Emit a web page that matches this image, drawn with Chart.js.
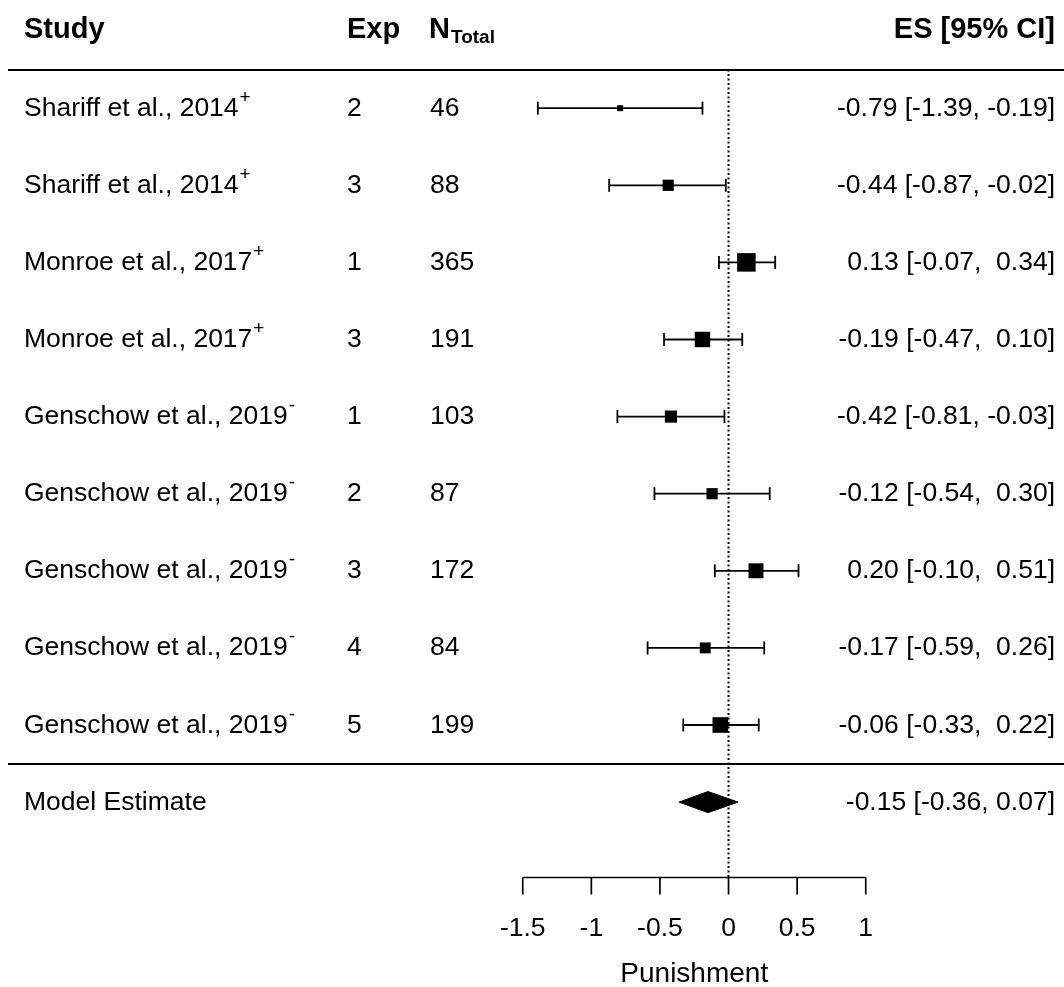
<!DOCTYPE html>
<html>
<head>
<meta charset="utf-8">
<title>Forest plot - Punishment</title>
<script src="https://cdn.jsdelivr.net/npm/chart.js@4.4.1/dist/chart.umd.min.js"></script>
<style>
    body { margin: 0; background: #fff; overflow: hidden; }
    #wrap { width: 1064px; height: 987px; position: relative; }
    canvas { display: block; }
</style>
</head>
<body>
<div id="wrap"><canvas id="forestChart"></canvas></div>
<script>
    // datos
    const studies = ["Shariff et al., 2014", "Shariff et al., 2014", "Monroe et al., 2017", "Monroe et al., 2017",
        "Genschow et al., 2019", "Genschow et al., 2019", "Genschow et al., 2019", "Genschow et al., 2019", "Genschow et al., 2019"];
    const studyMarks = ["+", "+", "+", "+", "-", "-", "-", "-", "-"];
    const exps = [2, 3, 1, 3, 1, 2, 3, 4, 5];
    const nTotal = [46, 88, 365, 191, 103, 87, 172, 84, 199];
    const es = [-0.79, -0.44, 0.13, -0.19, -0.42, -0.12, 0.20, -0.17, -0.06];
    const ciLow = [-1.39, -0.87, -0.07, -0.47, -0.81, -0.54, -0.10, -0.59, -0.33];
    const ciHigh = [-0.19, -0.02, 0.34, 0.10, -0.03, 0.30, 0.51, 0.26, 0.22];

    const modelLabel = "Model Estimate";
    const modelEs = -0.15;
    const modelLow = -0.36;
    const modelHigh = 0.07;

    const axisTicks = [-1.5, -1, -0.5, 0, 0.5, 1];
    const axisTickLabels = ["-1.5", "-1", "-0.5", "0", "0.5", "1"];
    const axisTitle = "Punishment";

    const FONT = '"Liberation Sans", Arial, Helvetica, sans-serif';
    const modelRow = studies.length;      // fila del modelo
    const axisRow = studies.length + 1;   // fila del eje

    const fmt = v => v.toFixed(2);
    const padPos = v => (v < 0 ? '' : ' ') + fmt(v);

    /** tamaño del cuadrado según N */
    function boxSide(n) {
        const lo = Math.log(Math.min(...nTotal));
        const hi = Math.log(Math.max(...nTotal));
        const t = (Math.log(n) - lo) / (hi - lo);
        return 6 + 12.5 * Math.pow(t, 0.75);
    }

    /** Textos de la tabla y eje */
    const forestText = {
        id: 'forestText',
        afterDraw(chart) {
            const { ctx, scales: { x, y } } = chart;
            ctx.save();
            ctx.fillStyle = '#000';
            ctx.strokeStyle = '#000';

            // cabecera
            ctx.textBaseline = 'alphabetic';
            ctx.font = `bold 29px ${FONT}`;
            ctx.textAlign = 'left';
            ctx.fillText("Study", 24, 38);
            ctx.fillText("Exp", 347, 38);
            ctx.fillText("N", 429, 38);
            const nW = ctx.measureText("N").width;
            ctx.font = `bold 19px ${FONT}`;
            ctx.fillText("Total", 429 + nW + 1, 43);
            ctx.font = `bold 29px ${FONT}`;
            ctx.textAlign = 'right';
            ctx.fillText("ES [95% CI]", 1055, 38);

            // líneas separadoras
            ctx.lineWidth = 2;
            [-0.5, modelRow - 0.5].forEach(v => {
                const py = Math.round(y.getPixelForValue(v));
                ctx.beginPath();
                ctx.moveTo(8, py);
                ctx.lineTo(1064, py);
                ctx.stroke();
            });

            // filas
            studies.forEach((s, i) => {
                const base = y.getPixelForValue(i) + 7.5;
                ctx.font = `26.5px ${FONT}`;
                ctx.textAlign = 'left';
                ctx.fillText(s, 24, base);
                const w = ctx.measureText(s).width;
                ctx.fillText(String(exps[i]), 347, base);
                ctx.fillText(String(nTotal[i]), 430, base);
                ctx.textAlign = 'right';
                ctx.fillText(`${fmt(es[i])} [${fmt(ciLow[i])}, ${padPos(ciHigh[i])}]`, 1055, base);
                ctx.textAlign = 'left';
                ctx.font = `19px ${FONT}`;
                ctx.fillText(studyMarks[i], 24 + w + 1, base - 13);
            });

            const mBase = y.getPixelForValue(modelRow) + 7.5;
            ctx.font = `26.5px ${FONT}`;
            ctx.textAlign = 'left';
            ctx.fillText(modelLabel, 24, mBase);
            ctx.textAlign = 'right';
            ctx.fillText(`${fmt(modelEs)} [${fmt(modelLow)}, ${fmt(modelHigh)}]`, 1055, mBase);

            // eje x
            const ay = Math.round(y.getPixelForValue(axisRow)) - 1.5;
            ctx.lineWidth = 1.7;
            ctx.beginPath();
            ctx.moveTo(x.getPixelForValue(axisTicks[0]), ay);
            ctx.lineTo(x.getPixelForValue(axisTicks[axisTicks.length - 1]), ay);
            axisTicks.forEach(t => {
                const px = x.getPixelForValue(t);
                ctx.moveTo(px, ay);
                ctx.lineTo(px, ay + 17);
            });
            ctx.stroke();
            ctx.font = `26.5px ${FONT}`;
            ctx.textAlign = 'center';
            axisTicks.forEach((t, k) => {
                ctx.fillText(axisTickLabels[k], x.getPixelForValue(t), ay + 58);
            });
            ctx.font = `28px ${FONT}`;
            ctx.fillText(axisTitle, x.getPixelForValue(-0.25), 982);
            ctx.restore();
        }
    };

    function generarForest() {
        const boxes = {
            type: 'scatter',
            order: 0,
            data: es.map((v, i) => ({ x: v, y: i })),
            pointStyle: 'rect',
            pointRadius: nTotal.map(n => boxSide(n) / Math.SQRT2),
            pointHoverRadius: nTotal.map(n => boxSide(n) / Math.SQRT2),
            backgroundColor: '#000',
            borderColor: '#000',
            pointBorderWidth: 0
        };

        const ciLines = studies.map((s, i) => ({
            type: 'line',
            order: 1,
            data: [{ x: ciLow[i], y: i }, { x: ciHigh[i], y: i }],
            borderColor: '#000',
            borderWidth: 1.8,
            pointStyle: 'line',
            pointRotation: 90,
            pointRadius: 6.5,
            pointHoverRadius: 6.5,
            pointBorderWidth: 1.8,
            pointBorderColor: '#000',
            fill: false
        }));

        const diamondH = 0.137;
        const diamond = {
            type: 'line',
            order: 0,
            data: [
                { x: modelLow, y: modelRow },
                { x: modelEs, y: modelRow - diamondH },
                { x: modelHigh, y: modelRow },
                { x: modelEs, y: modelRow + diamondH },
                { x: modelLow, y: modelRow }
            ],
            borderColor: '#000',
            backgroundColor: '#000',
            borderWidth: 1,
            pointRadius: 0,
            fill: 'shape'
        };

        const zeroLine = {
            type: 'line',
            order: 2,
            data: [{ x: 0, y: -0.5 }, { x: 0, y: axisRow - 0.02 }],
            borderColor: '#000',
            borderWidth: 2,
            borderDash: [2, 2.5],
            pointRadius: 0,
            fill: false
        };

        new Chart(document.getElementById("forestChart"), {
            type: 'scatter',
            data: { datasets: [boxes, diamond, ...ciLines, zeroLine] },
            options: {
                responsive: true,
                maintainAspectRatio: false,
                animation: false,
                events: [],
                layout: { padding: 0, autoPadding: false },
                plugins: {
                    legend: { display: false },
                    tooltip: { enabled: false }
                },
                scales: {
                    x: { type: 'linear', display: false, min: -5.310, max: 2.445 },
                    y: { type: 'linear', display: false, reverse: true, min: -1.403, max: 11.398 }
                }
            },
            plugins: [forestText]
        });
    }

    window.addEventListener('DOMContentLoaded', generarForest);
</script>
</body>
</html>
